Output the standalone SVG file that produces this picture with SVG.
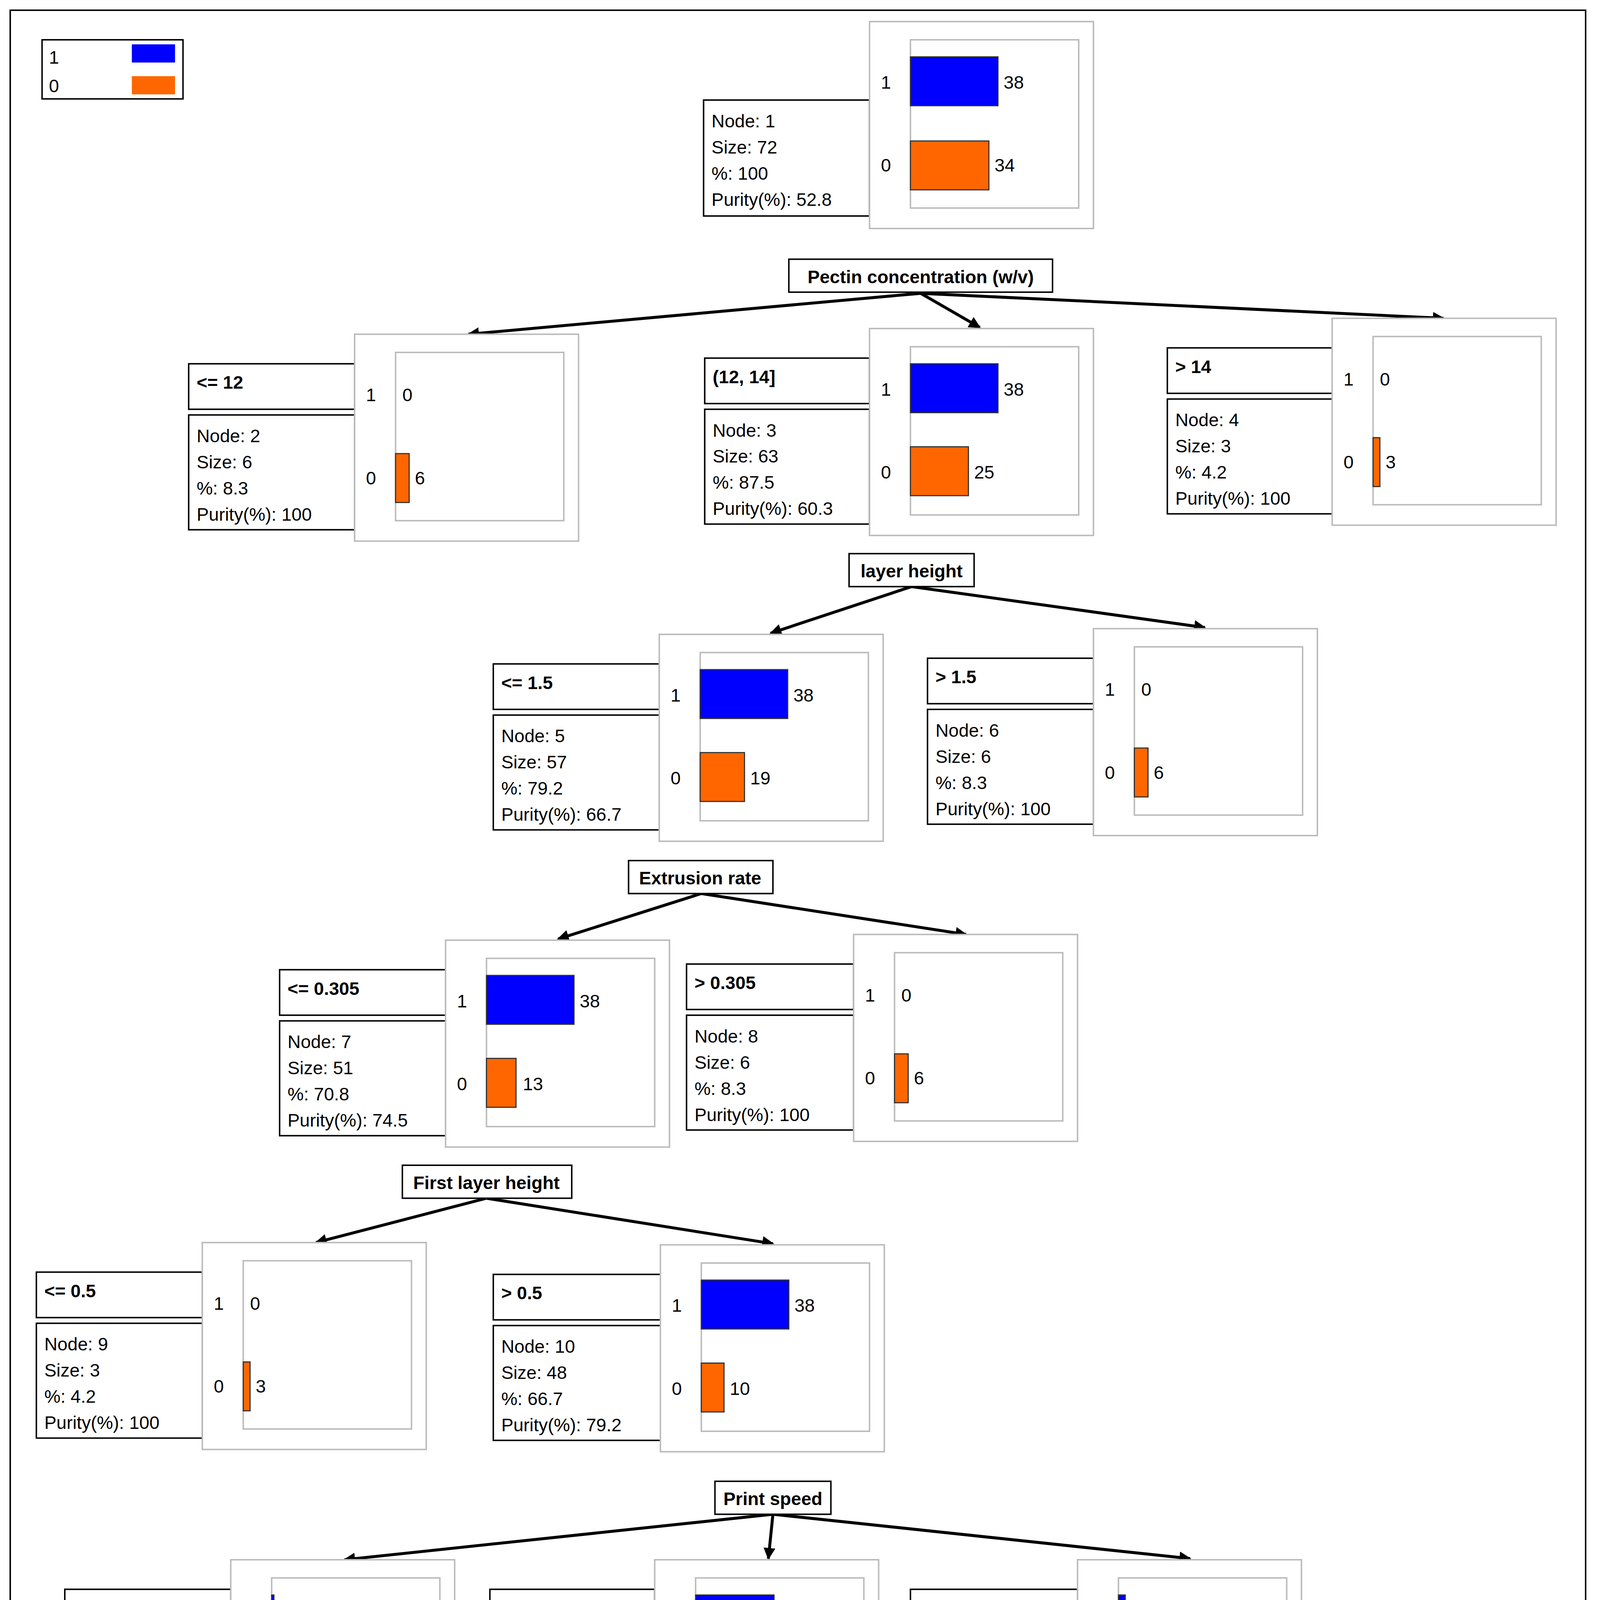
<svg xmlns="http://www.w3.org/2000/svg" width="4089" height="4578" viewBox="0 0 4089 4578">
<style>
text{font-family:"Liberation Sans",Arial,sans-serif;font-size:16px;fill:#000}
.b{font-weight:bold}
.box{fill:#fff;stroke:#000;stroke-width:1.3}
.ch{fill:#fff;stroke:#bbb;stroke-width:1.3}
.bl{fill:#0000ff;stroke:#333;stroke-width:1}
.or{fill:#ff6600;stroke:#333;stroke-width:1}
.ar{stroke:#000;stroke-width:2.6;fill:none;marker-end:url(#m)}
</style>
<defs>
<marker id="m" viewBox="0 0 10 10" refX="9" refY="5" markerWidth="4" markerHeight="4" orient="auto" markerUnits="strokeWidth"><path d="M0,0L10,5L0,10z" fill="#000"/></marker>
</defs>
<rect width="4089" height="4578" fill="#fff"/>
<g transform="scale(2.9103)">
<rect x="9" y="9" width="1386" height="1550" fill="none" stroke="#000" stroke-width="1.3"/>
<g id="legend">
<rect class="box" x="37" y="35" width="124" height="52"/>
<text x="43" y="56">1</text><rect x="116" y="39" width="38" height="16" fill="#0000ff"/>
<text x="43" y="81">0</text><rect x="116" y="67" width="38" height="16" fill="#ff6600"/>
</g>
<g id="connectors">
<path class="ar" d="M810,258L412,294"/><path class="ar" d="M810,258L862,288"/><path class="ar" d="M810,258L1270,280"/>
<path class="ar" d="M802,516L678,557"/><path class="ar" d="M802,516L1060,552"/>
<path class="ar" d="M617,786L491,826"/><path class="ar" d="M617,786L850,822"/>
<path class="ar" d="M428,1054L278,1093"/><path class="ar" d="M428,1054L680,1094"/>
<path class="ar" d="M680,1332L303,1372"/><path class="ar" d="M680,1332L676,1371"/><path class="ar" d="M680,1332L1047,1371"/>
</g>
<g id="splits">
<rect class="box" x="694" y="228" width="232" height="29"/><text class="b" x="810" y="249" text-anchor="middle">Pectin concentration  (w/v)</text>
<rect class="box" x="747" y="487" width="110" height="29"/><text class="b" x="802" y="508" text-anchor="middle">layer height</text>
<rect class="box" x="553" y="757" width="127" height="29"/><text class="b" x="616" y="778" text-anchor="middle">Extrusion rate</text>
<rect class="box" x="354" y="1025" width="149" height="29"/><text class="b" x="428" y="1046" text-anchor="middle">First layer height</text>
<rect class="box" x="629" y="1303" width="102" height="29"/><text class="b" x="680" y="1324" text-anchor="middle">Print speed</text>
</g>
<g id="node1">
<rect class="box" x="619" y="88" width="146" height="102"/>
<text x="626" y="112">Node: 1</text><text x="626" y="135">Size: 72</text><text x="626" y="158">%: 100</text><text x="626" y="181">Purity(%): 52.8</text>
<rect class="ch" x="765" y="19" width="197" height="182"/><rect class="ch" x="801" y="35" width="148" height="148"/>
<text x="775" y="78">1</text><rect class="bl" x="801" y="50" width="77" height="43"/><text x="883" y="78">38</text>
<text x="775" y="151">0</text><rect class="or" x="801" y="124" width="69" height="43"/><text x="875" y="151">34</text>
</g>
<g id="node2">
<rect class="box" x="166" y="320" width="146" height="40"/><text class="b" x="173" y="342">&lt;= 12</text>
<rect class="box" x="166" y="365" width="146" height="101"/>
<text x="173" y="389">Node: 2</text><text x="173" y="412">Size: 6</text><text x="173" y="435">%: 8.3</text><text x="173" y="458">Purity(%): 100</text>
<rect class="ch" x="312" y="294" width="197" height="182"/><rect class="ch" x="348" y="310" width="148" height="148"/>
<text x="322" y="353">1</text><text x="354" y="353">0</text>
<text x="322" y="426">0</text><rect class="or" x="348" y="399" width="12" height="43"/><text x="365" y="426">6</text>
</g>
<g id="node3">
<rect class="box" x="620" y="315" width="145" height="40"/><text class="b" x="627" y="337">(12, 14]</text>
<rect class="box" x="620" y="360" width="145" height="101"/>
<text x="627" y="384">Node: 3</text><text x="627" y="407">Size: 63</text><text x="627" y="430">%: 87.5</text><text x="627" y="453">Purity(%): 60.3</text>
<rect class="ch" x="765" y="289" width="197" height="182"/><rect class="ch" x="801" y="305" width="148" height="148"/>
<text x="775" y="348">1</text><rect class="bl" x="801" y="320" width="77" height="43"/><text x="883" y="348">38</text>
<text x="775" y="421">0</text><rect class="or" x="801" y="393" width="51" height="43"/><text x="857" y="421">25</text>
</g>
<g id="node4">
<rect class="box" x="1027" y="306" width="145" height="40"/><text class="b" x="1034" y="328">&gt; 14</text>
<rect class="box" x="1027" y="351" width="145" height="101"/>
<text x="1034" y="375">Node: 4</text><text x="1034" y="398">Size: 3</text><text x="1034" y="421">%: 4.2</text><text x="1034" y="444">Purity(%): 100</text>
<rect class="ch" x="1172" y="280" width="197" height="182"/><rect class="ch" x="1208" y="296" width="148" height="148"/>
<text x="1182" y="339">1</text><text x="1214" y="339">0</text>
<text x="1182" y="412">0</text><rect class="or" x="1208" y="385" width="6" height="43"/><text x="1219" y="412">3</text>
</g>
<g id="node5">
<rect class="box" x="434" y="584" width="146" height="40"/><text class="b" x="441" y="606">&lt;= 1.5</text>
<rect class="box" x="434" y="629" width="146" height="101"/>
<text x="441" y="653">Node: 5</text><text x="441" y="676">Size: 57</text><text x="441" y="699">%: 79.2</text><text x="441" y="722">Purity(%): 66.7</text>
<rect class="ch" x="580" y="558" width="197" height="182"/><rect class="ch" x="616" y="574" width="148" height="148"/>
<text x="590" y="617">1</text><rect class="bl" x="616" y="589" width="77" height="43"/><text x="698" y="617">38</text>
<text x="590" y="690">0</text><rect class="or" x="616" y="662" width="39" height="43"/><text x="660" y="690">19</text>
</g>
<g id="node6">
<rect class="box" x="816" y="579" width="146" height="40"/><text class="b" x="823" y="601">&gt; 1.5</text>
<rect class="box" x="816" y="624" width="146" height="101"/>
<text x="823" y="648">Node: 6</text><text x="823" y="671">Size: 6</text><text x="823" y="694">%: 8.3</text><text x="823" y="717">Purity(%): 100</text>
<rect class="ch" x="962" y="553" width="197" height="182"/><rect class="ch" x="998" y="569" width="148" height="148"/>
<text x="972" y="612">1</text><text x="1004" y="612">0</text>
<text x="972" y="685">0</text><rect class="or" x="998" y="658" width="12" height="43"/><text x="1015" y="685">6</text>
</g>
<g id="node7">
<rect class="box" x="246" y="853" width="146" height="40"/><text class="b" x="253" y="875">&lt;= 0.305</text>
<rect class="box" x="246" y="898" width="146" height="101"/>
<text x="253" y="922">Node: 7</text><text x="253" y="945">Size: 51</text><text x="253" y="968">%: 70.8</text><text x="253" y="991">Purity(%): 74.5</text>
<rect class="ch" x="392" y="827" width="197" height="182"/><rect class="ch" x="428" y="843" width="148" height="148"/>
<text x="402" y="886">1</text><rect class="bl" x="428" y="858" width="77" height="43"/><text x="510" y="886">38</text>
<text x="402" y="959">0</text><rect class="or" x="428" y="931" width="26" height="43"/><text x="460" y="959">13</text>
</g>
<g id="node8">
<rect class="box" x="604" y="848" width="147" height="40"/><text class="b" x="611" y="870">&gt; 0.305</text>
<rect class="box" x="604" y="893" width="147" height="101"/>
<text x="611" y="917">Node: 8</text><text x="611" y="940">Size: 6</text><text x="611" y="963">%: 8.3</text><text x="611" y="986">Purity(%): 100</text>
<rect class="ch" x="751" y="822" width="197" height="182"/><rect class="ch" x="787" y="838" width="148" height="148"/>
<text x="761" y="881">1</text><text x="793" y="881">0</text>
<text x="761" y="954">0</text><rect class="or" x="787" y="927" width="12" height="43"/><text x="804" y="954">6</text>
</g>
<g id="node9">
<rect class="box" x="32" y="1119" width="146" height="40"/><text class="b" x="39" y="1141">&lt;= 0.5</text>
<rect class="box" x="32" y="1164" width="146" height="101"/>
<text x="39" y="1188">Node: 9</text><text x="39" y="1211">Size: 3</text><text x="39" y="1234">%: 4.2</text><text x="39" y="1257">Purity(%): 100</text>
<rect class="ch" x="178" y="1093" width="197" height="182"/><rect class="ch" x="214" y="1109" width="148" height="148"/>
<text x="188" y="1152">1</text><text x="220" y="1152">0</text>
<text x="188" y="1225">0</text><rect class="or" x="214" y="1198" width="6" height="43"/><text x="225" y="1225">3</text>
</g>
<g id="node10">
<rect class="box" x="434" y="1121" width="147" height="40"/><text class="b" x="441" y="1143">&gt; 0.5</text>
<rect class="box" x="434" y="1166" width="147" height="101"/>
<text x="441" y="1190">Node: 10</text><text x="441" y="1213">Size: 48</text><text x="441" y="1236">%: 66.7</text><text x="441" y="1259">Purity(%): 79.2</text>
<rect class="ch" x="581" y="1095" width="197" height="182"/><rect class="ch" x="617" y="1111" width="148" height="148"/>
<text x="591" y="1154">1</text><rect class="bl" x="617" y="1126" width="77" height="43"/><text x="699" y="1154">38</text>
<text x="591" y="1227">0</text><rect class="or" x="617" y="1199" width="20" height="43"/><text x="642" y="1227">10</text>
</g>
<g id="node11">
<rect class="box" x="57" y="1398" width="146" height="40"/><text class="b" x="64" y="1420">&lt;= 5</text>
<rect class="box" x="57" y="1443" width="146" height="101"/>
<text x="64" y="1467">Node: 11</text><text x="64" y="1490">Size: 3</text><text x="64" y="1513">%: 4.2</text><text x="64" y="1536">Purity(%): 66.7</text>
<rect class="ch" x="203" y="1372" width="197" height="182"/><rect class="ch" x="239" y="1388" width="148" height="148"/>
<text x="213" y="1431">1</text><rect class="bl" x="239" y="1403" width="2" height="43"/><text x="247" y="1431">1</text>
<text x="213" y="1504">0</text><rect class="or" x="239" y="1476" width="4" height="43"/><text x="249" y="1504">2</text>
</g>
<g id="node12">
<rect class="box" x="431" y="1398" width="145" height="40"/><text class="b" x="438" y="1420">(5, 10]</text>
<rect class="box" x="431" y="1443" width="145" height="101"/>
<text x="438" y="1467">Node: 12</text><text x="438" y="1490">Size: 39</text><text x="438" y="1513">%: 54.2</text><text x="438" y="1536">Purity(%): 87.2</text>
<rect class="ch" x="576" y="1372" width="197" height="182"/><rect class="ch" x="612" y="1388" width="148" height="148"/>
<text x="586" y="1431">1</text><rect class="bl" x="612" y="1403" width="69" height="43"/><text x="686" y="1431">34</text>
<text x="586" y="1504">0</text><rect class="or" x="612" y="1476" width="10" height="43"/><text x="628" y="1504">5</text>
</g>
<g id="node13">
<rect class="box" x="801" y="1398" width="147" height="40"/><text class="b" x="808" y="1420">&gt; 10</text>
<rect class="box" x="801" y="1443" width="147" height="101"/>
<text x="808" y="1467">Node: 13</text><text x="808" y="1490">Size: 6</text><text x="808" y="1513">%: 8.3</text><text x="808" y="1536">Purity(%): 50</text>
<rect class="ch" x="948" y="1372" width="197" height="182"/><rect class="ch" x="984" y="1388" width="148" height="148"/>
<text x="958" y="1431">1</text><rect class="bl" x="984" y="1403" width="6" height="43"/><text x="995" y="1431">3</text>
<text x="958" y="1504">0</text><rect class="or" x="984" y="1476" width="6" height="43"/><text x="995" y="1504">3</text>
</g>
</g>
</svg>
